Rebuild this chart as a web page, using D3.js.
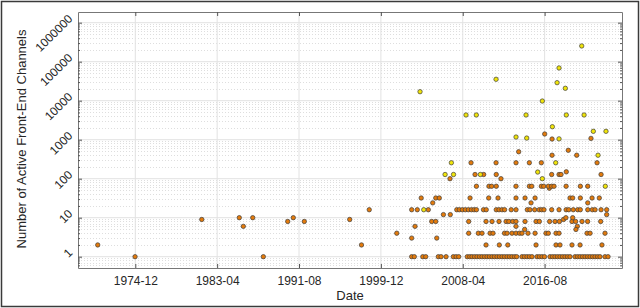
<!DOCTYPE html>
<html><head><meta charset="utf-8">
<script src="https://cdn.jsdelivr.net/npm/d3@7"></script>
<style>body{margin:0;background:#fff}svg{display:block}text{font-family:"Liberation Sans",Arial,sans-serif;fill:#262626}</style>
</head><body><div id="chart"></div>
<script>
// ---- data (decimal years, channel counts) ----
const xTickLabels = ["1974-12","1983-04","1991-08","1999-12","2008-04","2016-08"];
const yTickValues = [1,10,100,1000,10000,100000,1000000];

const orangeYears = [
1971.09,1974.89,1981.68,1985.50,1985.91,1986.87,1987.95,1990.43,1991.00,1992.12,1996.74,1997.94,1998.73,2001.53,
// value 1 row
2003.05,2003.32,2004.18,2004.48,2005.76,2006.04,2006.55,2007.29,2007.57,2007.84,
2008.71,2008.96,2009.19,2009.45,2009.70,2009.96,2010.21,2010.47,2010.72,2010.97,2011.23,2011.48,2011.74,2011.99,2012.25,2012.50,2012.76,2013.01,2013.26,2013.52,2013.74,
2014.28,2014.53,2014.79,2015.04,2015.30,2015.81,2016.06,2016.32,2016.57,
2017.13,2017.39,2017.64,2017.90,2018.15,2018.41,2018.66,2018.92,2019.17,
2019.68,2019.94,2020.19,2020.45,2020.70,2020.96,2021.21,2021.47,2021.72,2021.98,2022.22,2022.73,2023.04,
// value 2 row
2010.62,2011.97,2012.83,2015.71,2017.74,2018.15,2019.37,2020.19,2022.42,
// value 3
2003.05,2005.60,
// value 4 row
2008.85,2009.83,2010.21,2011.03,2011.33,2012.50,2012.76,2013.26,2013.67,2014.03,2014.28,2014.89,2015.61,2016.72,2016.96,2017.74,2018.05,2020.90,2021.21,2022.73,
// value 5-6
2003.39,2013.67,2014.55,2019.91,2019.77,
// value 8 row
2005.09,2005.50,2008.85,2010.62,2011.23,2011.94,2012.66,2012.94,2013.34,2013.67,2014.59,2015.71,2016.05,2017.09,2017.64,2018.09,2019.37,2019.74,2020.39,2020.96,2022.29,
// 9-10 rising cluster
2018.51,2018.75,2019.44,
// value 12
2006.28,2006.98,2022.90,
// value 16 row
2003.05,2003.62,2004.74,2007.64,2007.90,2008.21,2008.51,2008.82,2009.13,2009.40,2009.64,2010.36,2010.64,2011.66,2011.94,2012.25,2012.51,2013.18,2013.67,2014.82,2015.09,2015.57,2016.03,2016.28,2016.52,2017.30,2018.05,2018.77,2019.04,2019.50,2019.95,2020.22,2020.97,2021.44,2021.72,2022.33,2022.90,
// 24
2005.19,2015.20,2020.97,
// value 32 row
2004.02,2005.50,2005.86,2008.99,2010.89,2011.84,2013.67,2014.59,2015.61,2019.17,2019.44,2020.22,2021.41,2022.15,
// ~57 and 64 row
2017.06,2009.64,2010.92,2011.19,2011.66,2013.67,2015.03,2015.27,2016.25,2016.49,2016.96,2017.30,2017.54,2018.77,2020.22,2020.97,
// ~100
2006.95,2012.14,
// 128 row
2009.50,2010.38,2011.66,2017.30,2018.05,2018.25,2018.79,2022.33,
// 256 row
2009.09,2011.64,2013.67,2015.03,2016.25,2021.92,
// 400-1400
2013.94,2017.34,2018.99,2019.85,2016.59,2017.34,2021.30
];
const orangeValues = [
2,1,9,10,6,10,1,8,10,8,9,2,16,4,
1,1,1,1,1,1,1,1,1,1,
1,1,1,1,1,1,1,1,1,1,1,1,1,1,1,1,1,1,1,1,1,
1,1,1,1,1,1,1,1,1,
1,1,1,1,1,1,1,1,1,
1,1,1,1,1,1,1,1,1,1,1,1,1,
2,2,2,2,2,2,2,2,2,
3,3,
4,4,4,4,4,4,4,4,4,4,4,4,4,4,4,4,4,4,4,4,
6,6,5,6,5,
8,8,8,8,8,8,8,8,8,8,8,8,8,8,8,8,8,8,8,8,8,
9,10,10,
12,12,12,
16,16,16,16,16,16,16,16,16,16,16,16,16,16,16,16,16,16,16,16,16,16,16,16,16,16,16,16,16,16,16,16,16,16,16,16,16,
24,24,24,
32,32,32,32,32,32,32,32,32,32,32,32,32,32,
57,64,64,64,64,64,64,64,64,64,64,64,64,64,64,64,
100,100,
128,128,128,128,128,128,150,128,
256,256,256,256,256,256,
490,400,535,400,1400,1040,1080
];

const yellowYears = [2004.28,2006.45,2007.09,2007.31,2010.04,2008.58,2009.63,2003.90,2011.64,2020.36,
2018.05,2017.85,2018.69,2016.35,2014.69,2018.79,2020.60,2017.37,2021.54,2022.83,
2013.67,2014.76,2018.05,2022.02,2017.71,2015.88,2016.35,2022.76];
const yellowValues = [16,128,256,128,128,4300,4300,17000,35400,253000,
69000,29000,20800,9800,4300,4300,4300,2150,1640,1640,
1170,1100,1050,400,256,148,100,64];

const W = 640, H = 308;
const M = {left:78, right:622, top:12, bottom:268};

function yearToDate(y){
  const yr = Math.floor(y), f = y - yr;
  const a = new Date(yr,0,1), b = new Date(yr+1,0,1);
  return new Date(a.getTime() + f*(b-a));
}
const parseTick = d3.timeParse("%Y-%m");

const svg = d3.select("#chart").append("svg").attr("width",W).attr("height",H);

// outer frame
svg.append("rect").attr("x",1.5).attr("y",1.5).attr("width",W-3).attr("height",H-3)
  .attr("fill","#fff").attr("stroke","#3a3a3a").attr("stroke-width",1.5);

const x = d3.scaleTime().domain([yearToDate(1969.08), yearToDate(2024.46)]).range([M.left, M.right]);
const y = d3.scaleLog().domain([Math.pow(10,-0.29), Math.pow(10,6.274)]).range([M.bottom, M.top]);

const g = svg.append("g");
const xTicks = xTickLabels.map(parseTick);

// minor horizontal grid (dotted)
const minorY = [];
for (let e=-1;e<=6;e++) for (let k=2;k<=9;k++){ const v=k*Math.pow(10,e); if(v>y.domain()[0]&&v<y.domain()[1]) minorY.push(v);}
g.selectAll(".mhy").data(minorY).join("line")
  .attr("x1",M.left).attr("x2",M.right).attr("y1",d=>Math.round(y(d))+0.5).attr("y2",d=>Math.round(y(d))+0.5)
  .attr("stroke","#dedede").attr("stroke-width",1).attr("stroke-dasharray","1,2");
// major grid
g.selectAll(".gx").data(xTicks).join("line")
  .attr("x1",d=>x(d)).attr("x2",d=>x(d)).attr("y1",M.top).attr("y2",M.bottom)
  .attr("stroke","#e2e2e2").attr("stroke-width",1);
g.selectAll(".gy").data(yTickValues).join("line")
  .attr("x1",M.left).attr("x2",M.right).attr("y1",d=>y(d)).attr("y2",d=>y(d))
  .attr("stroke","#e2e2e2").attr("stroke-width",1);

// axes with inward ticks
const axB = d3.axisBottom(x).tickValues(xTicks).tickFormat(d3.timeFormat("%Y-%m")).tickSizeInner(-4).tickSizeOuter(0).tickPadding(8);
const axT = d3.axisTop(x).tickValues(xTicks).tickFormat("").tickSizeInner(-4).tickSizeOuter(0);
const axL = d3.axisLeft(y).tickValues(yTickValues).tickFormat(d3.format("d")).tickSizeInner(-4).tickSizeOuter(0);
const axR = d3.axisRight(y).tickValues(yTickValues).tickFormat("").tickSizeInner(-4).tickSizeOuter(0);
const axLm = d3.axisLeft(y).tickValues(minorY).tickFormat("").tickSizeInner(-2).tickSizeOuter(0);
const axRm = d3.axisRight(y).tickValues(minorY).tickFormat("").tickSizeInner(-2).tickSizeOuter(0);

function style(sel){ sel.selectAll("path").attr("stroke","#777").attr("stroke-width",1);
  sel.selectAll("line").attr("stroke","#555"); }
svg.append("g").attr("transform",`translate(0,${M.bottom})`).call(axB).call(style)
  .selectAll("text").attr("font-size",12).attr("fill","#262626").attr("font-family","Liberation Sans, Arial, sans-serif");
svg.append("g").attr("transform",`translate(0,${M.top})`).call(axT).call(style);
const gl = svg.append("g").attr("transform",`translate(${M.left},0)`).call(axL).call(style);
gl.selectAll("text").attr("font-size",12).attr("fill","#262626").attr("font-family","Liberation Sans, Arial, sans-serif")
  .attr("x",null).attr("dy",null).attr("text-anchor","end").attr("dominant-baseline","central")
  .attr("transform","translate(-7.5,-6.5) rotate(-45)");
svg.append("g").attr("transform",`translate(${M.right},0)`).call(axR).call(style);
svg.append("g").attr("transform",`translate(${M.left},0)`).call(axLm).call(style).select("path").remove();
svg.append("g").attr("transform",`translate(${M.right},0)`).call(axRm).call(style).select("path").remove();

// points
const pts = g.append("g");
pts.selectAll(".o").data(orangeYears.map((yr,i)=>({d:yearToDate(yr),v:orangeValues[i]}))).join("circle")
  .attr("cx",d=>x(d.d)).attr("cy",d=>y(d.v)).attr("r",2.2)
  .attr("fill","#e27a0c").attr("stroke","#3d3d3d").attr("stroke-width",0.7);
pts.selectAll(".yl").data(yellowYears.map((yr,i)=>({d:yearToDate(yr),v:yellowValues[i]}))).join("circle")
  .attr("cx",d=>x(d.d)).attr("cy",d=>y(d.v)).attr("r",2.2)
  .attr("fill","#f0e40a").attr("stroke","#3d3d3d").attr("stroke-width",0.7);

// labels
svg.append("text").attr("x",350).attr("y",300).attr("text-anchor","middle").attr("font-size",13).text("Date");
svg.append("text").attr("transform","translate(26,139) rotate(-90)").attr("text-anchor","middle").attr("font-size",13)
  .text("Number of Active Front-End Channels");
</script></body></html>
